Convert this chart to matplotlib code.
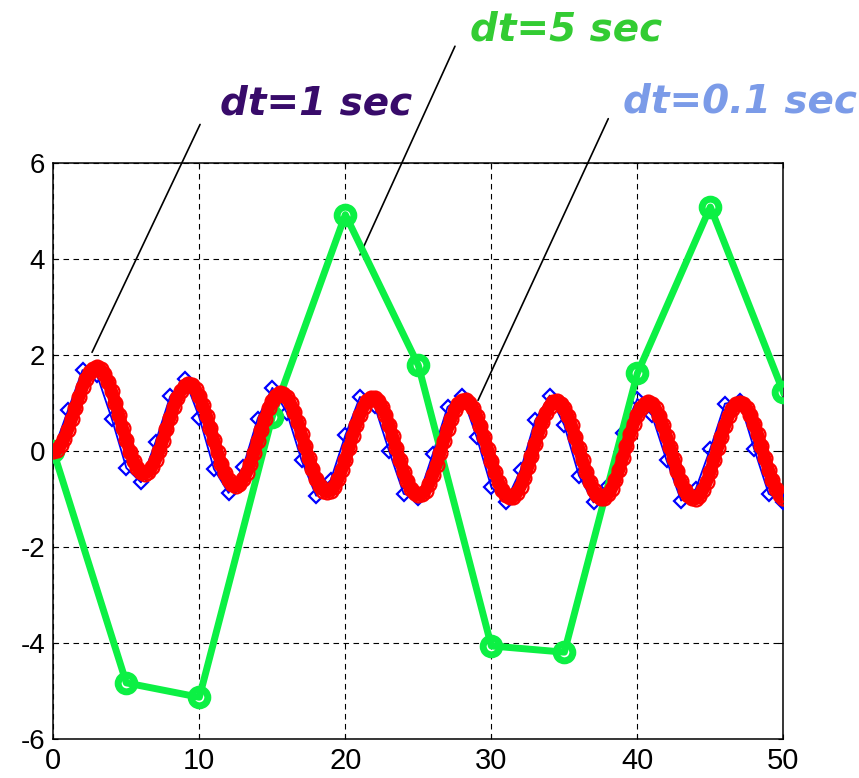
import numpy as np
import matplotlib
matplotlib.use('Agg')
import matplotlib.pyplot as plt

plt.rcParams['axes.unicode_minus'] = False

# dt = 0.1 sec solution (every 0.25 sec)
red_step = 0.25
red_x = [0.00, 0.03, 0.12, 0.26, 0.45, 0.66, 0.89, 1.12, 1.33, 1.51, 1.64, 1.72, 1.75, 1.71, 1.61, 1.45, 1.25, 1.01, 0.75, 0.48,
         0.23, -0.01, -0.20, -0.35, -0.44, -0.47, -0.43, -0.34, -0.19, 0.00, 0.22, 0.46, 0.69, 0.92, 1.11, 1.26, 1.36, 1.40, 1.38, 1.29,
         1.15, 0.96, 0.74, 0.49, 0.23, -0.02, -0.26, -0.45, -0.60, -0.69, -0.72, -0.69, -0.59, -0.45, -0.26, -0.03, 0.21, 0.45, 0.68, 0.89,
         1.05, 1.16, 1.21, 1.20, 1.13, 1.00, 0.82, 0.61, 0.36, 0.11, -0.14, -0.37, -0.57, -0.72, -0.82, -0.85, -0.82, -0.74, -0.59, -0.40,
         -0.18, 0.06, 0.31, 0.55, 0.75, 0.92, 1.05, 1.11, 1.11, 1.05, 0.93, 0.76, 0.55, 0.31, 0.06, -0.19, -0.43, -0.62, -0.78, -0.88,
         -0.92, -0.90, -0.82, -0.68, -0.50, -0.28, -0.03, 0.22, 0.46, 0.67, 0.85, 0.98, 1.05, 1.06, 1.01, 0.90, 0.74, 0.53, 0.30, 0.05,
         -0.20, -0.44, -0.64, -0.80, -0.91, -0.96, -0.95, -0.87, -0.74, -0.56, -0.34, -0.10, 0.15, 0.39, 0.61, 0.80, 0.93, 1.02, 1.04, 0.99,
         0.89, 0.74, 0.54, 0.30, 0.06, -0.19, -0.43, -0.64, -0.81, -0.92, -0.98, -0.97, -0.90, -0.78, -0.60, -0.39, -0.15, 0.10, 0.35, 0.57,
         0.76, 0.90, 0.99, 1.02, 0.99, 0.89, 0.74, 0.55, 0.32, 0.08, -0.17, -0.41, -0.63, -0.80, -0.92, -0.98, -0.99, -0.93, -0.81, -0.64,
         -0.43, -0.19, 0.06, 0.30, 0.53, 0.73, 0.88, 0.98, 1.01, 0.99, 0.90, 0.76, 0.57, 0.35, 0.10, -0.15, -0.39, -0.61, -0.78, -0.91,
         -0.98]
red_t = np.arange(len(red_x)) * red_step

# dt = 1 sec
blue_t = list(range(0, 51))
blue_x = [0.00, 0.85, 1.69, 1.58, 0.68, -0.35, -0.65, 0.19, 1.14, 1.51, 0.70,
          -0.37, -0.87, -0.33, 0.68, 1.32, 0.80, -0.19, -0.93, -0.60, 0.33,
          1.13, 0.95, 0.00, -0.89, -0.97, -0.05, 0.92, 1.16, 0.29, -0.75,
          -1.05, -0.40, 0.64, 1.16, 0.54, -0.51, -1.07, -0.72, 0.37, 1.09,
          0.75, -0.19, -1.03, -0.79, 0.05, 0.99, 1.05, 0.05, -0.89, -1.05]

# dt = 5 sec
green_t = [0, 5, 10, 15, 20, 25, 30, 35, 40, 45, 50]
green_x = [0.00, -4.83, -5.13, 0.72, 4.93, 1.79, -4.06, -4.19, 1.62, 5.09, 1.23]

labels = ['dt=1 sec', 'dt=5 sec', 'dt=0.1 sec']
label_colors = ['#380b6a', '#33cc33', '#7b9be8']
label_pos = [(11.42, 7.02), (28.55, 8.55), (39.02, 7.05)]
leader_start = [(10.05, 6.81), (27.51, 8.44), (38.01, 6.93)]
leader_end = [(2.65, 2.06), (21.0, 4.09), (29.09, 1.06)]

fig = plt.figure(figsize=(8.59, 7.78), dpi=100)
ax = fig.add_axes([0.0621, 0.0501, 0.8498, 0.7400])

ax.plot(blue_t, blue_x, color='#0000ff', lw=1.3, marker='D', ms=7,
        mfc='none', mec='#0000ff', mew=1.6, zorder=3)
ax.plot(green_t, green_x, color='#0cf044', lw=5, marker='o', ms=12,
        mfc='none', mec='#0cf044', mew=5, zorder=4)
ax.plot(red_t, red_x, color='#ff0000', lw=9, solid_capstyle='round',
        solid_joinstyle='round', marker='o', ms=10, mfc='none',
        mec='#ff0000', mew=1.6, zorder=5)

ax.set_xlim(0, 50)
ax.set_ylim(-6, 6)
ax.set_xticks([0, 10, 20, 30, 40, 50])
ax.set_yticks([-6, -4, -2, 0, 2, 4, 6])
ax.grid(True, color='k', lw=0.8, linestyle=(0, (5, 4)))
ax.set_axisbelow(True)
for sp in ax.spines.values():
    sp.set_linewidth(1.1)
ax.tick_params(direction='in', length=3.5, width=0.8, top=True, right=True)
ax.tick_params(axis='x', labelsize=21, pad=6)
ax.tick_params(axis='y', labelsize=20, pad=6)
for lab in ax.get_xticklabels() + ax.get_yticklabels():
    lab.set_fontfamily('Liberation Sans')

# labels with leader lines
for txt, col, pos, s, e in zip(labels, label_colors, label_pos, leader_start, leader_end):
    ax.annotate('', xy=e, xytext=s, annotation_clip=False,
                arrowprops=dict(arrowstyle='-', color='k', lw=1.2,
                                shrinkA=0, shrinkB=0))
    ax.text(pos[0], pos[1], txt, color=col, fontsize=28, fontweight='bold',
            fontstyle='italic', family='DejaVu Sans', ha='left', va='baseline',
            clip_on=False)

plt.savefig('out.png', dpi=100)
